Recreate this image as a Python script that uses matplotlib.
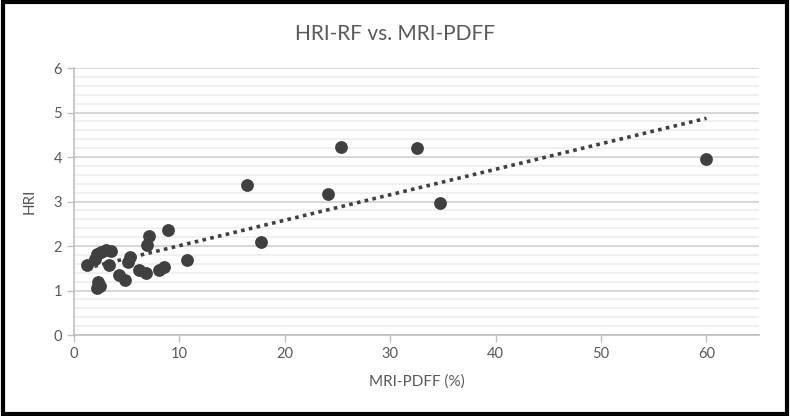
import numpy as np
import matplotlib.pyplot as plt
from matplotlib.patches import Rectangle

# MRI-PDFF (%) vs HRI
pdff = [1.2, 2.0, 2.2, 2.6, 3.0, 3.5, 3.3, 2.2, 2.3, 2.5, 4.3, 4.8, 5.1, 5.3,
        6.2, 6.8, 6.9, 7.1, 8.1, 8.5, 8.9, 10.7, 16.4, 17.7, 24.1, 25.3,
        32.5, 34.7, 60.0]
hri = [1.58, 1.70, 1.83, 1.86, 1.92, 1.88, 1.58, 1.06, 1.20, 1.10, 1.35, 1.23,
       1.64, 1.76, 1.45, 1.39, 2.03, 2.23, 1.47, 1.52, 2.37, 1.68, 3.38, 2.10,
       3.17, 4.22, 4.20, 2.97, 3.96]

title = "HRI-RF vs. MRI-PDFF"
xlabel = "MRI-PDFF (%)"
ylabel = "HRI"

text_col = "#595959"
dot_col = "#404040"

plt.rcParams['font.family'] = ['Lato', 'DejaVu Sans']

fig = plt.figure(figsize=(7.9, 4.16), dpi=100)
ax = fig.add_axes([0.0937, 0.1947, 0.8673, 0.6418])

x = np.array(pdff)
y = np.array(hri)
ax.scatter(x, y, s=85, color=dot_col, zorder=3, linewidths=0)

# linear trendline over the data range
slope, icpt = np.polyfit(x, y, 1)
xs = np.array([x.min(), x.max()])
ax.plot(xs, slope * xs + icpt, linestyle=(0, (1, 1.2)), color=dot_col, lw=2.6, zorder=2)

ax.set_xlim(0, 65)
ax.set_ylim(0, 6)
ax.set_xticks(range(0, 61, 10))
ax.set_yticks(range(0, 7))
ax.set_yticks(np.arange(0, 6, 0.2), minor=True)
ax.tick_params(axis='y', which='minor', length=0)
ax.tick_params(axis='both', which='major', colors='#bfbfbf', labelcolor=text_col,
               labelsize=10.5, length=5, width=1)
ax.grid(True, axis='y', which='major', color='#d0d0d0', lw=1.2, zorder=0)
ax.grid(True, axis='y', which='minor', color='#eeeeee', lw=1.2, zorder=0)
ax.set_axisbelow(True)
for side in ['top', 'right']:
    ax.spines[side].set_visible(False)
for side in ['left', 'bottom']:
    ax.spines[side].set_color('#bfbfbf')
    ax.spines[side].set_linewidth(1.2)

ax.set_xlabel(xlabel, color=text_col, fontsize=11, labelpad=10)
ax.set_ylabel(ylabel, color=text_col, fontsize=11, labelpad=12)
fig.text(0.5, 0.918, title, ha='center', va='center', color=text_col, fontsize=15)

# black frame around the chart
fig.patches.append(Rectangle((0.004, 0.006), 0.992, 0.988, transform=fig.transFigure,
                             fill=False, edgecolor='black', lw=3))

fig.savefig("out.png", dpi=100)
